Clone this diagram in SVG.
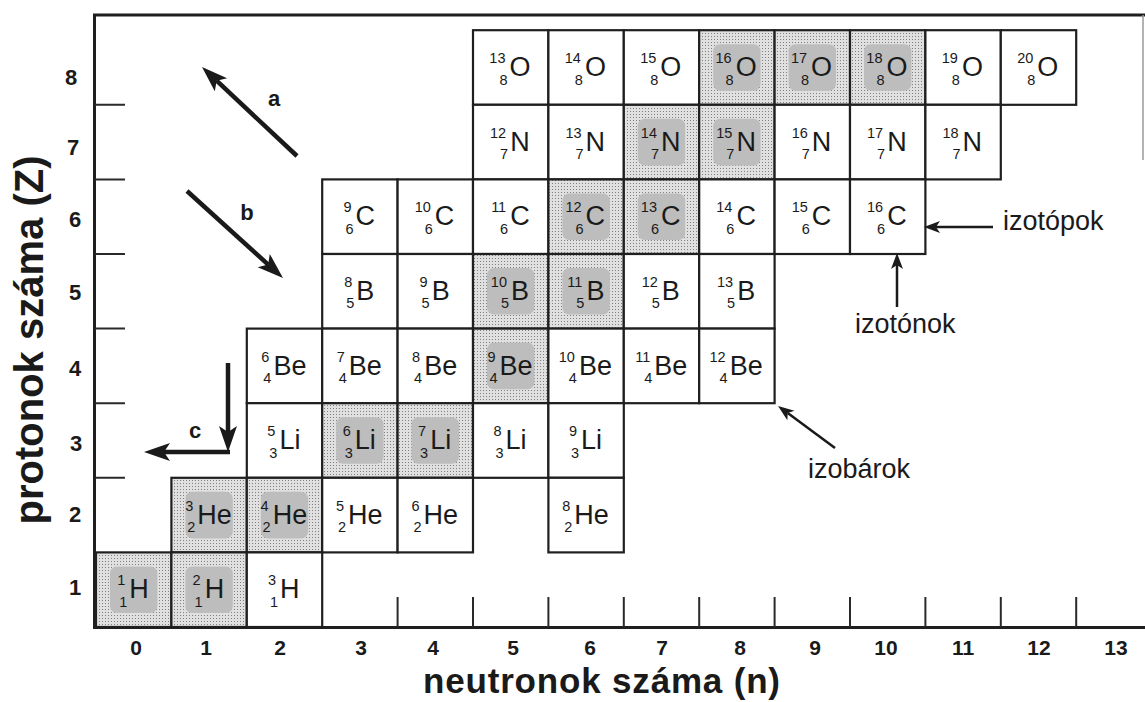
<svg xmlns="http://www.w3.org/2000/svg" width="1145" height="702" viewBox="0 0 1145 702">
<style>
text{font-family:"Liberation Sans",Arial,Helvetica,sans-serif;fill:#1a1a1a}
.c{fill:#fff;stroke:#1f1f1f;stroke-width:2.2}
.s{fill:url(#stip);stroke:#1f1f1f;stroke-width:2.2}
.i{fill:#bdbdbd}
.y{font-size:27px}
.p{font-size:14.5px;text-anchor:end}
.b{font-size:14.5px;text-anchor:end}
.ax{font-size:22px;font-weight:bold;text-anchor:middle}
.bx{font-size:21px;font-weight:bold;text-anchor:middle}
.lb{font-size:27px}
.fr{stroke:#1f1f1f;stroke-width:3;fill:none}
.tk{stroke:#2a2a2a;stroke-width:2;fill:none}
.ar{stroke:#1a1a1a;stroke-width:4.5;fill:none}
.al{stroke:#1a1a1a;stroke-width:2.5;fill:none}
</style>
<defs>
<pattern id="stip" width="3" height="3" patternUnits="userSpaceOnUse">
<rect width="3" height="3" fill="#e0e0e0"/>
<rect width="1" height="1" fill="#808080"/>
</pattern>
<marker id="big" markerUnits="userSpaceOnUse" markerWidth="28" markerHeight="20" refX="6" refY="9" orient="auto">
<path d="M0,0 L26,9 L0,18 L6,9 z" fill="#1a1a1a"/>
</marker>
<marker id="sm" markerUnits="userSpaceOnUse" markerWidth="18" markerHeight="14" refX="4" refY="6" orient="auto">
<path d="M0,0 L16,6 L0,12 L4,6 z" fill="#1a1a1a"/>
</marker>
</defs>
<rect width="1145" height="702" fill="#fff"/>

<g id="frame">
<path class="fr" d="M93,15 H1145 M94.5,14 V628 M93,627.5 H1145"/>
<path d="M1143,15 V160" stroke="#9a9a9a" stroke-width="1.5"/>
<path class="tk" d="M95,104.8 H125 M95,179.4 H125 M95,254 H125 M95,328.6 H125 M95,403.2 H125 M95,477.8 H125"/>
<path class="tk" d="M397.6,597 V627 M473,597 V627 M548.4,597 V627 M623.8,597 V627 M699.2,597 V627 M774.6,597 V627 M850,597 V627 M925.4,597 V627 M1000.8,597 V627 M1076.2,597 V627"/>
</g>

<g id="yaxis-labels">
<text class="ax" x="71" y="85">8</text>
<text class="ax" x="73" y="155">7</text>
<text class="ax" x="75" y="227">6</text>
<text class="ax" x="75" y="300">5</text>
<text class="ax" x="75" y="376">4</text>
<text class="ax" x="76" y="451">3</text>
<text class="ax" x="75" y="522">2</text>
<text class="ax" x="75" y="595">1</text>
<text font-size="40" font-weight="bold" text-anchor="middle" transform="translate(43,340) rotate(-90)">protonok száma (Z)</text>
</g>

<g id="xaxis-labels">
<text class="bx" x="136" y="655">0</text>
<text class="bx" x="206" y="655">1</text>
<text class="bx" x="280" y="655">2</text>
<text class="bx" x="361" y="655">3</text>
<text class="bx" x="433" y="655">4</text>
<text class="bx" x="513" y="655">5</text>
<text class="bx" x="590" y="655">6</text>
<text class="bx" x="662" y="655">7</text>
<text class="bx" x="740" y="655">8</text>
<text class="bx" x="815" y="655">9</text>
<text class="bx" x="886" y="655">10</text>
<text class="bx" x="963" y="655">11</text>
<text class="bx" x="1039" y="655">12</text>
<text class="bx" x="1116" y="655">13</text>
<text x="423" y="693" font-size="35" font-weight="bold" textLength="357">neutronok száma (n)</text>
</g>

<!-- Z = 8 -->
<g id="O13"><rect class="c" x="473" y="30.2" width="75.4" height="74.6"/><text class="y" x="509.5" y="76.2">O</text><text class="p" x="505.5" y="63.2">13</text><text class="b" x="507.5" y="84.5">8</text></g>
<g id="O14"><rect class="c" x="548.4" y="30.2" width="75.4" height="74.6"/><text class="y" x="584.9" y="76.2">O</text><text class="p" x="580.9" y="63.2">14</text><text class="b" x="582.9" y="84.5">8</text></g>
<g id="O15"><rect class="c" x="623.8" y="30.2" width="75.4" height="74.6"/><text class="y" x="660.3" y="76.2">O</text><text class="p" x="656.3" y="63.2">15</text><text class="b" x="658.3" y="84.5">8</text></g>
<g id="O16"><rect class="s" x="699.2" y="30.2" width="75.4" height="74.6"/><rect class="i" x="713.2" y="44.2" width="47.4" height="46.6" rx="7"/><text class="y" x="735.7" y="76.2">O</text><text class="p" x="731.7" y="63.2">16</text><text class="b" x="733.7" y="84.5">8</text></g>
<g id="O17"><rect class="s" x="774.6" y="30.2" width="75.4" height="74.6"/><rect class="i" x="788.6" y="44.2" width="47.4" height="46.6" rx="7"/><text class="y" x="811.1" y="76.2">O</text><text class="p" x="807.1" y="63.2">17</text><text class="b" x="809.1" y="84.5">8</text></g>
<g id="O18"><rect class="s" x="850" y="30.2" width="75.4" height="74.6"/><rect class="i" x="864" y="44.2" width="47.4" height="46.6" rx="7"/><text class="y" x="886.5" y="76.2">O</text><text class="p" x="882.5" y="63.2">18</text><text class="b" x="884.5" y="84.5">8</text></g>
<g id="O19"><rect class="c" x="925.4" y="30.2" width="75.4" height="74.6"/><text class="y" x="961.9" y="76.2">O</text><text class="p" x="957.9" y="63.2">19</text><text class="b" x="959.9" y="84.5">8</text></g>
<g id="O20"><rect class="c" x="1000.8" y="30.2" width="75.4" height="74.6"/><text class="y" x="1037.3" y="76.2">O</text><text class="p" x="1033.3" y="63.2">20</text><text class="b" x="1035.3" y="84.5">8</text></g>

<!-- Z = 7 -->
<g id="N12"><rect class="c" x="473" y="104.8" width="75.4" height="74.6"/><text class="y" x="510.2" y="150.8">N</text><text class="p" x="506.2" y="137.8">12</text><text class="b" x="508.2" y="159.1">7</text></g>
<g id="N13"><rect class="c" x="548.4" y="104.8" width="75.4" height="74.6"/><text class="y" x="585.6" y="150.8">N</text><text class="p" x="581.6" y="137.8">13</text><text class="b" x="583.6" y="159.1">7</text></g>
<g id="N14"><rect class="s" x="623.8" y="104.8" width="75.4" height="74.6"/><rect class="i" x="637.8" y="118.8" width="47.4" height="46.6" rx="7"/><text class="y" x="661" y="150.8">N</text><text class="p" x="657" y="137.8">14</text><text class="b" x="659" y="159.1">7</text></g>
<g id="N15"><rect class="s" x="699.2" y="104.8" width="75.4" height="74.6"/><rect class="i" x="713.2" y="118.8" width="47.4" height="46.6" rx="7"/><text class="y" x="736.4" y="150.8">N</text><text class="p" x="732.4" y="137.8">15</text><text class="b" x="734.4" y="159.1">7</text></g>
<g id="N16"><rect class="c" x="774.6" y="104.8" width="75.4" height="74.6"/><text class="y" x="811.8" y="150.8">N</text><text class="p" x="807.8" y="137.8">16</text><text class="b" x="809.8" y="159.1">7</text></g>
<g id="N17"><rect class="c" x="850" y="104.8" width="75.4" height="74.6"/><text class="y" x="887.2" y="150.8">N</text><text class="p" x="883.2" y="137.8">17</text><text class="b" x="885.2" y="159.1">7</text></g>
<g id="N18"><rect class="c" x="925.4" y="104.8" width="75.4" height="74.6"/><text class="y" x="962.6" y="150.8">N</text><text class="p" x="958.6" y="137.8">18</text><text class="b" x="960.6" y="159.1">7</text></g>

<!-- Z = 6 -->
<g id="C9"><rect class="c" x="322.2" y="179.4" width="75.4" height="74.6"/><text class="y" x="355.5" y="225.4">C</text><text class="p" x="351.5" y="212.4">9</text><text class="b" x="353.5" y="233.7">6</text></g>
<g id="C10"><rect class="c" x="397.6" y="179.4" width="75.4" height="74.6"/><text class="y" x="434.8" y="225.4">C</text><text class="p" x="430.8" y="212.4">10</text><text class="b" x="432.8" y="233.7">6</text></g>
<g id="C11"><rect class="c" x="473" y="179.4" width="75.4" height="74.6"/><text class="y" x="510.2" y="225.4">C</text><text class="p" x="506.2" y="212.4">11</text><text class="b" x="508.2" y="233.7">6</text></g>
<g id="C12"><rect class="s" x="548.4" y="179.4" width="75.4" height="74.6"/><rect class="i" x="562.4" y="193.4" width="47.4" height="46.6" rx="7"/><text class="y" x="585.6" y="225.4">C</text><text class="p" x="581.6" y="212.4">12</text><text class="b" x="583.6" y="233.7">6</text></g>
<g id="C13"><rect class="s" x="623.8" y="179.4" width="75.4" height="74.6"/><rect class="i" x="637.8" y="193.4" width="47.4" height="46.6" rx="7"/><text class="y" x="661" y="225.4">C</text><text class="p" x="657" y="212.4">13</text><text class="b" x="659" y="233.7">6</text></g>
<g id="C14"><rect class="c" x="699.2" y="179.4" width="75.4" height="74.6"/><text class="y" x="736.4" y="225.4">C</text><text class="p" x="732.4" y="212.4">14</text><text class="b" x="734.4" y="233.7">6</text></g>
<g id="C15"><rect class="c" x="774.6" y="179.4" width="75.4" height="74.6"/><text class="y" x="811.8" y="225.4">C</text><text class="p" x="807.8" y="212.4">15</text><text class="b" x="809.8" y="233.7">6</text></g>
<g id="C16"><rect class="c" x="850" y="179.4" width="75.4" height="74.6"/><text class="y" x="887.2" y="225.4">C</text><text class="p" x="883.2" y="212.4">16</text><text class="b" x="885.2" y="233.7">6</text></g>

<!-- Z = 5 -->
<g id="B8"><rect class="c" x="322.2" y="254" width="75.4" height="74.6"/><text class="y" x="356.3" y="300">B</text><text class="p" x="352.3" y="287">8</text><text class="b" x="354.3" y="308.3">5</text></g>
<g id="B9"><rect class="c" x="397.6" y="254" width="75.4" height="74.6"/><text class="y" x="431.7" y="300">B</text><text class="p" x="427.7" y="287">9</text><text class="b" x="429.7" y="308.3">5</text></g>
<g id="B10"><rect class="s" x="473" y="254" width="75.4" height="74.6"/><rect class="i" x="487" y="268" width="47.4" height="46.6" rx="7"/><text class="y" x="511" y="300">B</text><text class="p" x="507" y="287">10</text><text class="b" x="509" y="308.3">5</text></g>
<g id="B11"><rect class="s" x="548.4" y="254" width="75.4" height="74.6"/><rect class="i" x="562.4" y="268" width="47.4" height="46.6" rx="7"/><text class="y" x="586.4" y="300">B</text><text class="p" x="582.4" y="287">11</text><text class="b" x="584.4" y="308.3">5</text></g>
<g id="B12"><rect class="c" x="623.8" y="254" width="75.4" height="74.6"/><text class="y" x="661.8" y="300">B</text><text class="p" x="657.8" y="287">12</text><text class="b" x="659.8" y="308.3">5</text></g>
<g id="B13"><rect class="c" x="699.2" y="254" width="75.4" height="74.6"/><text class="y" x="737.2" y="300">B</text><text class="p" x="733.2" y="287">13</text><text class="b" x="735.2" y="308.3">5</text></g>

<!-- Z = 4 -->
<g id="Be6"><rect class="c" x="246.8" y="328.6" width="75.4" height="74.6"/><text class="y" x="273.4" y="374.6">Be</text><text class="p" x="269.4" y="361.6">6</text><text class="b" x="271.4" y="382.9">4</text></g>
<g id="Be7"><rect class="c" x="322.2" y="328.6" width="75.4" height="74.6"/><text class="y" x="348.8" y="374.6">Be</text><text class="p" x="344.8" y="361.6">7</text><text class="b" x="346.8" y="382.9">4</text></g>
<g id="Be8"><rect class="c" x="397.6" y="328.6" width="75.4" height="74.6"/><text class="y" x="424.2" y="374.6">Be</text><text class="p" x="420.2" y="361.6">8</text><text class="b" x="422.2" y="382.9">4</text></g>
<g id="Be9"><rect class="s" x="473" y="328.6" width="75.4" height="74.6"/><rect class="i" x="487" y="342.6" width="47.4" height="46.6" rx="7"/><text class="y" x="499.6" y="374.6">Be</text><text class="p" x="495.6" y="361.6">9</text><text class="b" x="497.6" y="382.9">4</text></g>
<g id="Be10"><rect class="c" x="548.4" y="328.6" width="75.4" height="74.6"/><text class="y" x="578.9" y="374.6">Be</text><text class="p" x="574.9" y="361.6">10</text><text class="b" x="576.9" y="382.9">4</text></g>
<g id="Be11"><rect class="c" x="623.8" y="328.6" width="75.4" height="74.6"/><text class="y" x="654.3" y="374.6">Be</text><text class="p" x="650.3" y="361.6">11</text><text class="b" x="652.3" y="382.9">4</text></g>
<g id="Be12"><rect class="c" x="699.2" y="328.6" width="75.4" height="74.6"/><text class="y" x="729.7" y="374.6">Be</text><text class="p" x="725.7" y="361.6">12</text><text class="b" x="727.7" y="382.9">4</text></g>

<!-- Z = 3 -->
<g id="Li5"><rect class="c" x="246.8" y="403.2" width="75.4" height="74.6"/><text class="y" x="279.4" y="449.2">Li</text><text class="p" x="275.4" y="436.2">5</text><text class="b" x="277.4" y="457.5">3</text></g>
<g id="Li6"><rect class="s" x="322.2" y="403.2" width="75.4" height="74.6"/><rect class="i" x="336.2" y="417.2" width="47.4" height="46.6" rx="7"/><text class="y" x="354.8" y="449.2">Li</text><text class="p" x="350.8" y="436.2">6</text><text class="b" x="352.8" y="457.5">3</text></g>
<g id="Li7"><rect class="s" x="397.6" y="403.2" width="75.4" height="74.6"/><rect class="i" x="411.6" y="417.2" width="47.4" height="46.6" rx="7"/><text class="y" x="430.2" y="449.2">Li</text><text class="p" x="426.2" y="436.2">7</text><text class="b" x="428.2" y="457.5">3</text></g>
<g id="Li8"><rect class="c" x="473" y="403.2" width="75.4" height="74.6"/><text class="y" x="505.6" y="449.2">Li</text><text class="p" x="501.6" y="436.2">8</text><text class="b" x="503.6" y="457.5">3</text></g>
<g id="Li9"><rect class="c" x="548.4" y="403.2" width="75.4" height="74.6"/><text class="y" x="581" y="449.2">Li</text><text class="p" x="577" y="436.2">9</text><text class="b" x="579" y="457.5">3</text></g>

<!-- Z = 2 -->
<g id="He3"><rect class="s" x="171.4" y="477.8" width="75.4" height="74.6"/><rect class="i" x="185.4" y="491.8" width="47.4" height="46.6" rx="7"/><text class="y" x="197.3" y="523.8">He</text><text class="p" x="193.3" y="510.8">3</text><text class="b" x="195.3" y="532.1">2</text></g>
<g id="He4"><rect class="s" x="246.8" y="477.8" width="75.4" height="74.6"/><rect class="i" x="260.8" y="491.8" width="47.4" height="46.6" rx="7"/><text class="y" x="272.7" y="523.8">He</text><text class="p" x="268.7" y="510.8">4</text><text class="b" x="270.7" y="532.1">2</text></g>
<g id="He5"><rect class="c" x="322.2" y="477.8" width="75.4" height="74.6"/><text class="y" x="348.1" y="523.8">He</text><text class="p" x="344.1" y="510.8">5</text><text class="b" x="346.1" y="532.1">2</text></g>
<g id="He6"><rect class="c" x="397.6" y="477.8" width="75.4" height="74.6"/><text class="y" x="423.5" y="523.8">He</text><text class="p" x="419.5" y="510.8">6</text><text class="b" x="421.5" y="532.1">2</text></g>
<g id="He8"><rect class="c" x="548.4" y="477.8" width="75.4" height="74.6"/><text class="y" x="574.3" y="523.8">He</text><text class="p" x="570.3" y="510.8">8</text><text class="b" x="572.3" y="532.1">2</text></g>

<!-- Z = 1 -->
<g id="H1"><rect class="s" x="96" y="552.4" width="75.4" height="74.6"/><rect class="i" x="110" y="566.4" width="47.4" height="46.6" rx="7"/><text class="y" x="129.3" y="598.4">H</text><text class="p" x="125.3" y="585.4">1</text><text class="b" x="127.3" y="606.7">1</text></g>
<g id="H2"><rect class="s" x="171.4" y="552.4" width="75.4" height="74.6"/><rect class="i" x="185.4" y="566.4" width="47.4" height="46.6" rx="7"/><text class="y" x="204.7" y="598.4">H</text><text class="p" x="200.7" y="585.4">2</text><text class="b" x="202.7" y="606.7">1</text></g>
<g id="H3"><rect class="c" x="246.8" y="552.4" width="75.4" height="74.6"/><text class="y" x="280.1" y="598.4">H</text><text class="p" x="276.1" y="585.4">3</text><text class="b" x="278.1" y="606.7">1</text></g>

<g id="connectors">
<path class="ar" d="M297,156 L216.6,80.7" marker-end="url(#big)"/>
<path class="ar" d="M187,191 L268.2,264.6" marker-end="url(#big)"/>
<path class="ar" stroke-width="3.5" d="M228,363 L228,432" marker-end="url(#big)"/>
<path class="ar" stroke-width="3.5" d="M230,452 L164,452" marker-end="url(#big)"/>
<path class="al" d="M993,227 L936,227" marker-end="url(#sm)"/>
<path class="al" d="M897,307 L897,265" marker-end="url(#sm)"/>
<path class="al" d="M835,448 L787.7,413.1" marker-end="url(#sm)"/>
</g>

<g id="labels">
<text x="274" y="106" font-size="22" font-weight="bold" text-anchor="middle">a</text>
<text x="247" y="220" font-size="22" font-weight="bold" text-anchor="middle">b</text>
<text x="195" y="438" font-size="22" font-weight="bold" text-anchor="middle">c</text>
<text class="lb" x="1003" y="230">izotópok</text>
<text class="lb" x="855" y="333">izotónok</text>
<text class="lb" x="808" y="478">izobárok</text>
</g>
</svg>
